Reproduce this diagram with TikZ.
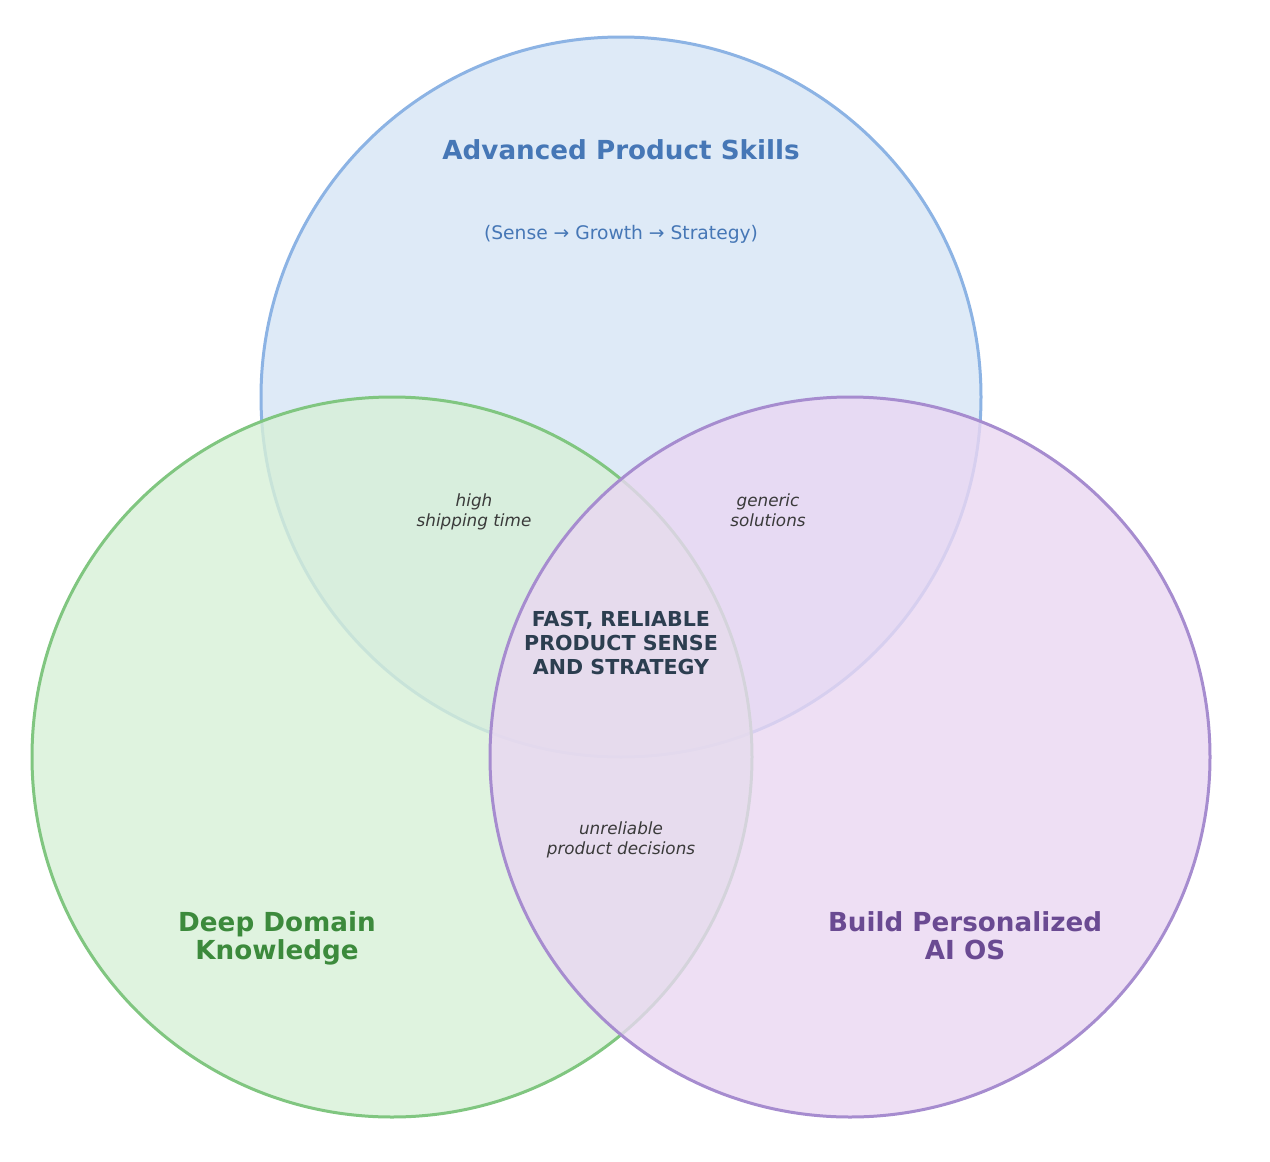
\documentclass[tikz,border=0pt]{standalone}
\usepackage{fontspec}
\setmainfont{DejaVu Sans}
\begin{document}
\begin{tikzpicture}[x=0.5pt,y=-0.5pt]
\definecolor{bluebase}{RGB}{214,229,246}
\definecolor{blueedge}{HTML}{8CB3E4}
\definecolor{greenbase}{RGB}{215,240,215}
\definecolor{greenedge}{HTML}{80C680}
\definecolor{purplebase}{RGB}{234,215,242}
\definecolor{purpleedge}{HTML}{A68CCF}
\definecolor{bluetext}{HTML}{4677B6}
\definecolor{greentext}{HTML}{3C8A3C}
\definecolor{purpletext}{HTML}{6A4A92}
\definecolor{centertext}{HTML}{2C3E50}
\definecolor{labeltext}{HTML}{3A3A3A}
\tikzset{
  setcircle/.style={circle, line width=1.5pt, fill opacity=0.8, draw opacity=1, minimum size=360pt, inner sep=0pt},
  maintitle/.style={font=\fontsize{13.1}{14}\selectfont\bfseries, align=center},
  subtitle/.style={font=\fontsize{9.35}{11}\selectfont, text=bluetext},
  overlap/.style={font=\fontsize{8.4}{10}\selectfont\itshape, align=center, text=labeltext},
  core/.style={font=\fontsize{10.3}{12}\selectfont\bfseries, align=center, text=centertext}
}
\useasboundingbox (0,0) rectangle (1270,1162);
\fill[white] (0,0) rectangle (1270,1162);
\node[setcircle, draw=blueedge, fill=bluebase] (blue) at (621,397) {};
\node[setcircle, draw=greenedge, fill=greenbase] (green) at (392,757) {};
\node[setcircle, draw=purpleedge, fill=purplebase] (purple) at (850,757) {};
\node[maintitle, text=bluetext] (tblue) at (621,150) {Advanced Product Skills};
\node[subtitle] (sblue) at (621,234) {(Sense → Growth → Strategy)};
\node[maintitle, text=greentext] (tgreen) at (277,938.5) {Deep Domain\\Knowledge};
\node[maintitle, text=purpletext] (tpurple) at (965,936) {Build Personalized\\AI OS};
\node[overlap] (bg) at (474,512) {high\\shipping time};
\node[overlap] (bp) at (768,510.5) {generic\\solutions};
\node[overlap] (gp) at (621,840) {unreliable\\product decisions};
\node[core] (center) at (621,642.5) {FAST, RELIABLE\\PRODUCT SENSE\\AND STRATEGY};
\end{tikzpicture}
\end{document}
